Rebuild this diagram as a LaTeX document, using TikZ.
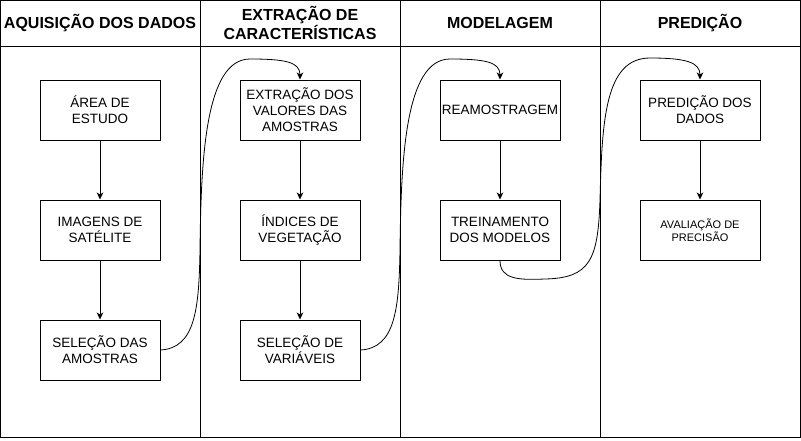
\documentclass[tikz,border=0pt]{standalone}
\usepackage{fontspec}
\setmainfont{Liberation Sans}
\usetikzlibrary{arrows.meta}
\begin{document}
\begin{tikzpicture}[x=1pt,y=-1pt,
  box/.style={draw, line width=1pt, minimum width=120pt, minimum height=60pt, inner sep=0pt, align=center, font=\fontsize{13.5}{16}\selectfont},
  smallbox/.style={box, font=\fontsize{11}{13}\selectfont},
  head/.style={align=center, inner sep=0pt, font=\bfseries\fontsize{16}{18.5}\selectfont},
  lane/.style={draw, line width=1pt},
  arr/.style={-{Stealth[length=7pt,width=6.5pt,inset=2pt]}, line width=0.8pt}]
\useasboundingbox (0,0) rectangle (801,440);
% lanes
\draw[lane] (0.5,0.5) rectangle (800.5,437.5);
\draw[lane] (0.5,46.5) -- (800.5,46.5);
\draw[lane] (200.5,0.5) -- (200.5,437.5);
\draw[lane] (400.5,0.5) -- (400.5,437.5);
\draw[lane] (600.5,0.5) -- (600.5,437.5);
% headers
\node[head] (h1) at (100,23) {AQUISIÇÃO DOS DADOS};
\node[head] (h2) at (300,23) {EXTRAÇÃO DE\\CARACTERÍSTICAS};
\node[head] (h3) at (500,23) {MODELAGEM};
\node[head] (h4) at (700,23) {PREDIÇÃO};
% boxes
\node[box] (a1) at (100,110) {ÁREA DE\\ESTUDO};
\node[box] (a2) at (100,230) {IMAGENS DE\\SATÉLITE};
\node[box] (a3) at (100,350) {SELEÇÃO DAS\\AMOSTRAS};
\node[box] (b1) at (300,110) {EXTRAÇÃO DOS\\VALORES DAS\\AMOSTRAS};
\node[box] (b2) at (300,230) {ÍNDICES DE\\VEGETAÇÃO};
\node[box] (b3) at (300,350) {SELEÇÃO DE\\VARIÁVEIS};
\node[box] (c1) at (500,110) {REAMOSTRAGEM};
\node[box] (c2) at (500,230) {TREINAMENTO\\DOS MODELOS};
\node[box] (d1) at (700,110) {PREDIÇÃO DOS\\DADOS};
\node[smallbox] (d2) at (700,230) {AVALIAÇÃO DE\\PRECISÃO};
% straight arrows
\draw[arr] (a1) -- (a2);
\draw[arr] (a2) -- (a3);
\draw[arr] (b1) -- (b2);
\draw[arr] (b2) -- (b3);
\draw[arr] (c1) -- (c2);
\draw[arr] (d1) -- (d2);
% curved arrows
\draw[arr] (a3.east) .. controls (195,348) and (199,310) .. (200,250)
  .. controls (201,160) and (205,59) .. (250,59)
  .. controls (285,59) and (300,62) .. (b1.north);
\draw[arr] (b3.east) .. controls (395,348) and (399,310) .. (400,250)
  .. controls (401,160) and (405,59) .. (450,59)
  .. controls (485,59) and (500,62) .. (c1.north);
\draw[arr] (c2.south) .. controls (500,280) and (520,280) .. (545,279)
  .. controls (590,278) and (598,260) .. (600,200)
  .. controls (602,120) and (605,58) .. (650,58)
  .. controls (685,58) and (700,62) .. (d1.north);
\end{tikzpicture}
\end{document}
